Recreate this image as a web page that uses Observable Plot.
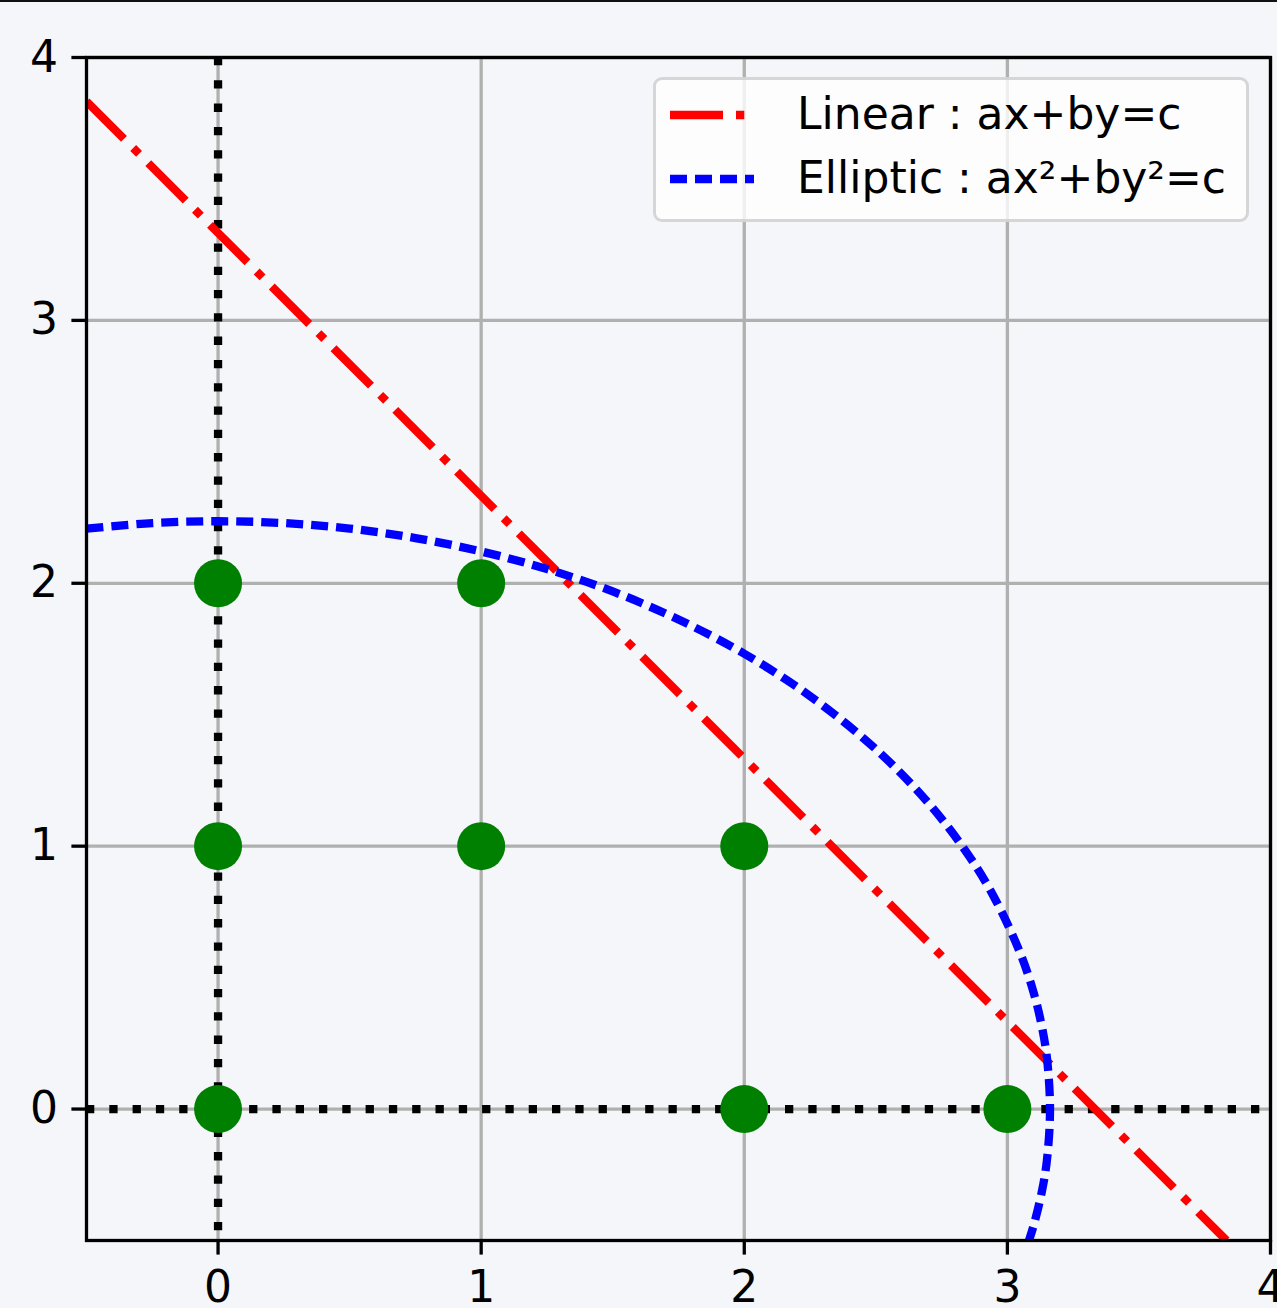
<!DOCTYPE html>
<html>
<head>
<meta charset="utf-8">
<script src="https://cdn.jsdelivr.net/npm/d3@7"></script>
<script src="https://cdn.jsdelivr.net/npm/@observablehq/plot@0.6"></script>
<style>
  html, body { margin: 0; padding: 0; background: #f5f6fa; }
  #wrap { position: relative; width: 1277px; height: 1308px; overflow: hidden; background: #f5f6fa; font-family: "DejaVu Sans", sans-serif; }
  #topline { position: absolute; left: 0; top: 0; width: 1277px; height: 2px; background: #111; }
  #legend { position: absolute; left: 653px; top: 77px; width: 596px; height: 145px; box-sizing: border-box;
            border: 3.3px solid rgba(204,204,204,0.8); background: rgba(255,255,255,0.8); border-radius: 9px; }
  #legend .lab { position: absolute; left: 141px; font-size: 44px; line-height: 1; color: #000; white-space: nowrap; }
  #legend svg { position: absolute; left: 0; top: 0; }
</style>
</head>
<body>
<div id="wrap">
  <div id="chart"></div>
  <div id="topline"></div>
  <div id="legend"></div>
</div>
<script>
// ---- data ----
const xTicks = [0, 1, 2, 3, 4];
const yTicks = [0, 1, 2, 3, 4];
const pointX = [0, 1, 0, 1, 2, 0, 2, 3];
const pointY = [2, 2, 1, 1, 1, 0, 0, 0];
const linearX = [-0.5, 3.833];
const linearY = [3.833, -0.5];
const ellipseX = [-0.5, -0.25, 0, 0.25, 0.5, 0.75, 1, 1.25, 1.5, 1.75, 2, 2.25, 2.5, 2.7, 2.85, 2.95, 3.05, 3.1, 3.13, 3.15, 3.162, 3.15, 3.13, 3.1, 3.082];
const ellipseY = [2.208, 2.229, 2.236, 2.229, 2.208, 2.172, 2.121, 2.054, 1.969, 1.862, 1.732, 1.571, 1.369, 1.164, 0.969, 0.805, 0.590, 0.442, 0.319, 0.197, 0.0, -0.197, -0.319, -0.442, -0.5];
const legendLabels = ["Linear : ax+by=c", "Elliptic : ax²+by²=c"];
const legendColors = ["red", "blue"];
const legendDashes = ["53,13,8.3,13", "17,8"];

const points = pointX.map((x, i) => ({x, y: pointY[i]}));
const linear = linearX.map((x, i) => ({x, y: linearY[i]}));
const ellipse = ellipseX.map((x, i) => ({x, y: ellipseY[i]}));

const chart = Plot.plot({
  width: 1277,
  height: 1308,
  marginLeft: 86,
  marginRight: 7,
  marginTop: 57,
  marginBottom: 68,
  x: {domain: [-0.5, 4]},
  y: {domain: [-0.5, 4]},
  style: {background: "transparent", fontFamily: "DejaVu Sans", fontSize: "44px", color: "black", overflow: "visible"},
  marks: [
    Plot.gridX(xTicks, {stroke: "#b0b0b0", strokeOpacity: 1, strokeWidth: 3.3}),
    Plot.gridY(yTicks, {stroke: "#b0b0b0", strokeOpacity: 1, strokeWidth: 3.3}),
    Plot.ruleX([0], {stroke: "black", strokeWidth: 8.3, strokeDasharray: "8.3,15", strokeLinecap: "butt"}),
    Plot.ruleY([0], {stroke: "black", strokeWidth: 8.3, strokeDasharray: "8.3,15", strokeLinecap: "butt"}),
    Plot.line(linear, {x: "x", y: "y", stroke: "red", strokeWidth: 8.3, strokeDasharray: legendDashes[0], strokeLinecap: "butt", clip: true}),
    Plot.line(ellipse, {x: "x", y: "y", stroke: "blue", strokeWidth: 8.3, strokeDasharray: legendDashes[1], strokeLinecap: "butt", curve: "catmull-rom", clip: true}),
    Plot.dot(points, {x: "x", y: "y", r: 24, fill: "green", stroke: "none"}),
    Plot.frame({stroke: "black", strokeWidth: 3.3}),
    Plot.axisX(xTicks, {tickSize: 14.6, tickPadding: 16, strokeWidth: 3.3, stroke: "black", fill: "black", fontSize: 44, tickFormat: d3.format("d"), label: null}),
    Plot.axisY(yTicks, {tickSize: 14.6, tickPadding: 14, strokeWidth: 3.3, stroke: "black", fill: "black", fontSize: 44, tickFormat: d3.format("d"), label: null})
  ]
});
document.getElementById("chart").appendChild(chart);

// ---- legend ----
const legend = document.getElementById("legend");
const rowsY = [35, 99];
const ns = "http://www.w3.org/2000/svg";
const svg = document.createElementNS(ns, "svg");
svg.setAttribute("width", 596);
svg.setAttribute("height", 145);
legendLabels.forEach((lab, i) => {
  const ln = document.createElementNS(ns, "line");
  ln.setAttribute("x1", 14);
  ln.setAttribute("x2", 98);
  ln.setAttribute("y1", rowsY[i]);
  ln.setAttribute("y2", rowsY[i]);
  ln.setAttribute("stroke", legendColors[i]);
  ln.setAttribute("stroke-width", 8.3);
  ln.setAttribute("stroke-dasharray", legendDashes[i]);
  svg.appendChild(ln);
  const t = document.createElement("div");
  t.className = "lab";
  t.textContent = lab;
  t.style.top = (rowsY[i] - 23) + "px";
  legend.appendChild(t);
});
legend.appendChild(svg);
</script>
</body>
</html>
